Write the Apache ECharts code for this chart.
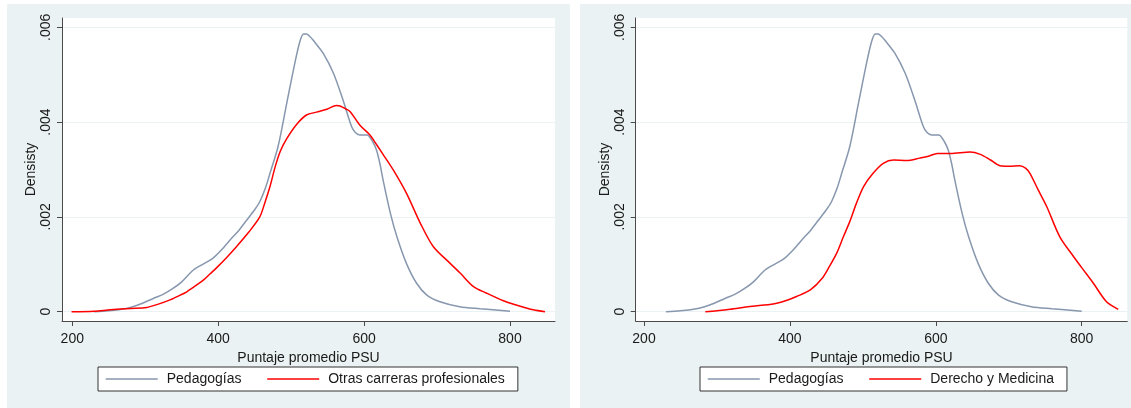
<!DOCTYPE html>
<html><head><meta charset="utf-8">
<script src="https://cdn.jsdelivr.net/npm/echarts@6/dist/echarts.min.js"></script>
<style>html,body{margin:0;padding:0;background:#fff}#c{width:1131px;height:408px}</style>
</head><body><div id="c"></div>
<script>
// [Puntaje PSU, densidad]
const pedagogias = [[230,0],[250,0.00002],[274,0.00007],[290,0.00014],[311,0.00028],[325,0.00037],[338,0.00049],[350,0.00063],[366,0.00088],[380,0.00101],[393,0.00113],[405,0.00131],[416,0.00151],[428,0.00171],[439,0.00193],[450,0.00215],[457,0.00232],[465,0.00262],[471,0.00292],[482,0.00348],[494,0.0044],[505,0.00524],[512,0.0057],[517,0.00586],[521,0.00586],[526,0.0058],[530,0.00573],[544,0.00545],[558,0.00503],[571,0.00447],[583,0.0039],[588,0.00378],[594,0.00373],[604,0.00373],[612,0.00358],[617,0.00341],[622,0.0031],[626,0.00278],[636,0.00208],[645,0.00158],[658,0.00102],[672,0.0006],[686,0.00035],[704,0.00021],[731,0.000106],[759,0.000063],[800,0.00001]];
const otrasCarreras = [[199,0],[230,0.00001],[252,0.00004],[280,0.00007],[302,0.00009],[318,0.00016],[334,0.00025],[348,0.00035],[357,0.00042],[372,0.00058],[380,0.00067],[389,0.0008],[398,0.00093],[412,0.00115],[425,0.00137],[442,0.00168],[457,0.002],[464,0.0023],[471,0.00264],[478,0.00305],[485,0.00338],[494,0.00365],[508,0.00396],[521,0.00415],[535,0.00421],[549,0.00427],[562,0.00435],[567,0.00434],[576,0.00427],[581,0.00422],[594,0.00394],[608,0.00373],[613,0.00362],[626,0.00332],[640,0.00299],[658,0.0025],[677,0.00187],[695,0.00137],[718,0.00102],[732,0.00081],[750,0.00053],[768,0.00039],[791,0.00023],[809,0.00014],[832,0.00004],[848,0]];
const derechoMedicina = [[284,0],[300,0.00002],[318,0.00005],[345,0.00011],[365,0.00014],[382,0.00018],[396,0.00024],[409,0.00032],[428,0.00046],[444,0.0007],[454,0.00095],[464,0.00123],[473,0.00157],[482,0.0019],[491,0.00228],[501,0.00264],[514,0.00292],[528,0.00313],[542,0.0032],[560,0.00319],[578,0.00324],[590,0.00328],[602,0.00334],[620,0.00334],[647,0.00337],[661,0.00332],[675,0.0032],[688,0.00308],[700,0.00307],[715,0.00308],[723,0.00303],[729,0.00292],[740,0.00258],[752,0.00222],[770,0.00158],[789,0.00116],[800,0.00093],[816,0.0006],[834,0.00021],[850,0.00005]];
const xTicks = [200,400,600,800];
const yTicks = [0,0.002,0.004,0.006];
const yTickLabels = ['0','.002','.004','.006'];
const xTitle = 'Puntaje promedio PSU';
const yTitle = 'Densisty';
const names = ['Pedagogías','Otras carreras profesionales','Derecho y Medicina'];

const GRAY = '#8797AE', RED = '#FF0000', BG = '#EAF2F3', AX = '#4a4a4a', TXT = '#1a1a1a';
const FONT = 'Liberation Sans, Arial, sans-serif';
const chart = echarts.init(document.getElementById('c'), null, {renderer:'canvas'});

function xAx(i, min, max){
  return {gridIndex:i, type:'value', min:min, max:max, name:xTitle, nameLocation:'middle', nameGap:26,
    nameTextStyle:{color:TXT, fontSize:14, fontFamily:FONT},
    axisLine:{onZero:false, lineStyle:{color:AX, width:1}},
    axisTick:{show:true, length:5, lineStyle:{color:AX}, customValues:xTicks},
    axisLabel:{color:TXT, fontSize:14, fontFamily:FONT, margin:11, customValues:xTicks},
    splitLine:{show:false}};
}
function yAx(i){
  return {gridIndex:i, type:'value', min:-0.000196, max:0.006196, name:yTitle, nameLocation:'middle', nameGap:23,
    nameTextStyle:{color:TXT, fontSize:14, fontFamily:FONT},
    axisLine:{show:true, onZero:false, lineStyle:{color:AX, width:1}},
    axisTick:{show:true, length:5, lineStyle:{color:AX}, customValues:yTicks},
    axisLabel:{color:TXT, fontSize:14, fontFamily:FONT, margin:9, rotate:90, customValues:yTicks,
      formatter:function(v){ const k = yTicks.findIndex(t=>Math.abs(t-v)<1e-9); return k>=0 ? yTickLabels[k] : ''; }},
    splitLine:{show:true, lineStyle:{color:BG, width:1.2}}};
}
function ser(name, data, color, i){
  return {name:name, type:'line', xAxisIndex:i, yAxisIndex:i, data:data, symbol:'none', showSymbol:false, smooth:0.3,
    lineStyle:{color:color, width:1.5}, itemStyle:{color:color}, silent:true, animation:false};
}
const legendCommon = {orient:'horizontal', top:367, itemWidth:52, itemHeight:14, itemGap:25,
  padding:[5,13,5,7], borderColor:'#333', borderWidth:1, backgroundColor:'#fff',
  itemStyle:{opacity:0}, lineStyle:{width:1.5},
  textStyle:{color:TXT, fontSize:14, fontFamily:FONT, padding:[0,0,0,4]}};

chart.setOption({
  animation:false,
  backgroundColor:'#fff',
  graphic:[
    {type:'rect', z:-10, shape:{x:7,y:4,width:563,height:410}, style:{fill:BG}},
    {type:'rect', z:-10, shape:{x:580,y:4,width:551,height:410}, style:{fill:BG}}
  ],
  grid:[
    {left:62, top:18, width:493, height:303, show:true, backgroundColor:'#fff', borderWidth:0},
    {left:635.7, top:18, width:491.6, height:303, show:true, backgroundColor:'#fff', borderWidth:0}
  ],
  xAxis:[xAx(0,185.9,861.7), xAx(1,188.6,862.5)],
  yAxis:[yAx(0), yAx(1)],
  legend:[
    Object.assign({left:98, data:[names[0],names[1]]}, legendCommon),
    Object.assign({left:700, data:[names[0],names[2]]}, legendCommon)
  ],
  series:[
    ser(names[0], pedagogias, GRAY, 0),
    ser(names[1], otrasCarreras, RED, 0),
    ser(names[0], pedagogias, GRAY, 1),
    ser(names[2], derechoMedicina, RED, 1)
  ]
});
</script></body></html>
